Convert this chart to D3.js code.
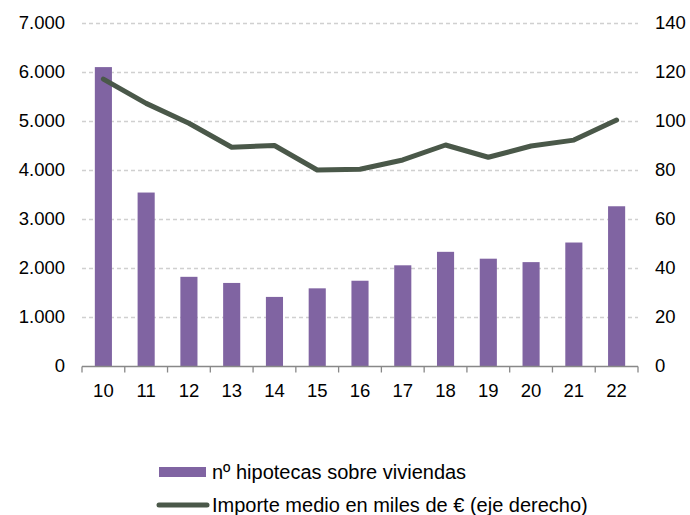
<!DOCTYPE html>
<html>
<head>
<meta charset="utf-8">
<script src="https://cdn.jsdelivr.net/npm/d3@7"></script>
<style>
  body { margin: 0; background: #fff; }
  text { font-family: "Liberation Sans", Arial, sans-serif; fill: #000; }
</style>
</head>
<body>
<div id="chart"></div>
<script>
var years = ["10", "11", "12", "13", "14", "15", "16", "17", "18", "19", "20", "21", "22"];
var hipotecas = [6100, 3540, 1820, 1695, 1410, 1585, 1740, 2055, 2330, 2190, 2120, 2520, 3260];
var importe = [117.1, 107.2, 99.1, 89.3, 90, 80, 80.3, 84.1, 90.2, 85.2, 89.8, 92.2, 100.4];
var leftTicks = [0, 1000, 2000, 3000, 4000, 5000, 6000, 7000];
var rightTicks = [0, 20, 40, 60, 80, 100, 120, 140];
var barLabel = "nº hipotecas sobre viviendas";
var lineLabel = "Importe medio en miles de € (eje derecho)";

var width = 690, height = 515;
var margin = { left: 82, right: 52, top: 23, bottom: 149 };
var innerW = width - margin.left - margin.right,
  innerH = height - margin.top - margin.bottom;

var barColor = "#8064a2", lineColor = "#4a5849";
var fs = "18.5px";

var svg = d3.select("#chart")
  .append("svg")
  .attr("width", width)
  .attr("height", height);

var g = svg.append("g")
  .attr("transform", "translate(" + margin.left + "," + margin.top + ")");

var x = d3.scaleBand()
  .domain(years)
  .range([0, innerW]);

var yL = d3.scaleLinear().domain([0, 7000]).range([innerH, 0]);
var yR = d3.scaleLinear().domain([0, 140]).range([innerH, 0]);

// grid lines
g.selectAll(".grid")
  .data(leftTicks.filter(function(d) { return d > 0; }))
  .enter().append("line")
  .attr("x1", 0)
  .attr("x2", innerW)
  .attr("y1", function(d) { return Math.round(yL(d)) + 0.5; })
  .attr("y2", function(d) { return Math.round(yL(d)) + 0.5; })
  .attr("stroke", "#d0d0d0")
  .attr("stroke-width", 1.3)
  .attr("stroke-dasharray", "4,3");

// bars
var bw = x.bandwidth() * 0.4;
g.selectAll(".bar")
  .data(hipotecas)
  .enter().append("rect")
  .attr("x", function(d, i) { return x(years[i]) + x.bandwidth() / 2 - bw / 2; })
  .attr("y", function(d) { return yL(d); })
  .attr("width", bw)
  .attr("height", function(d) { return innerH - yL(d); })
  .attr("fill", barColor);

// x axis
var xAxis = g.append("g")
  .attr("transform", "translate(0," + (Math.round(innerH) + 0.5) + ")");
xAxis.append("line")
  .attr("x1", 0).attr("x2", innerW)
  .attr("stroke", "#888").attr("stroke-width", 1.5);
xAxis.selectAll(".tk")
  .data(d3.range(years.length + 1))
  .enter().append("line")
  .attr("x1", function(i) { return i * x.step(); })
  .attr("x2", function(i) { return i * x.step(); })
  .attr("y1", 0).attr("y2", 6)
  .attr("stroke", "#888").attr("stroke-width", 1.3);
xAxis.selectAll(".lbl")
  .data(years)
  .enter().append("text")
  .attr("x", function(d) { return x(d) + x.bandwidth() / 2; })
  .attr("y", 30)
  .attr("text-anchor", "middle")
  .attr("font-size", fs)
  .text(function(d) { return d; });

// left axis labels
var fmt = d3.formatLocale({ decimal: ",", thousands: ".", grouping: [3], currency: ["", "€"] }).format(",");
g.selectAll(".ll")
  .data(leftTicks)
  .enter().append("text")
  .attr("x", -17)
  .attr("y", function(d) { return yL(d); })
  .attr("dy", "0.35em")
  .attr("text-anchor", "end")
  .attr("font-size", fs)
  .text(function(d) { return fmt(d); });

// right axis labels
g.selectAll(".rl")
  .data(rightTicks)
  .enter().append("text")
  .attr("x", innerW + 17)
  .attr("y", function(d) { return yR(d); })
  .attr("dy", "0.35em")
  .attr("text-anchor", "start")
  .attr("font-size", fs)
  .text(function(d) { return d; });

// line
var line = d3.line()
  .x(function(d, i) { return x(years[i]) + x.bandwidth() / 2; })
  .y(function(d) { return yR(d); });

g.append("path")
  .datum(importe)
  .attr("d", line)
  .attr("fill", "none")
  .attr("stroke", lineColor)
  .attr("stroke-width", 5)
  .attr("stroke-linecap", "round")
  .attr("stroke-linejoin", "round");

// legend
var legend = svg.append("g");
legend.append("rect")
  .attr("x", 159).attr("y", 467)
  .attr("width", 47).attr("height", 10)
  .attr("fill", barColor);
legend.append("text")
  .attr("x", 212).attr("y", 472)
  .attr("dy", "0.35em")
  .attr("font-size", "20px")
  .text(barLabel);
legend.append("line")
  .attr("x1", 159).attr("x2", 207)
  .attr("y1", 505).attr("y2", 505)
  .attr("stroke", lineColor)
  .attr("stroke-width", 5)
  .attr("stroke-linecap", "round");
legend.append("text")
  .attr("x", 212).attr("y", 505)
  .attr("dy", "0.35em")
  .attr("font-size", "20px")
  .text(lineLabel);
</script>
</body>
</html>
